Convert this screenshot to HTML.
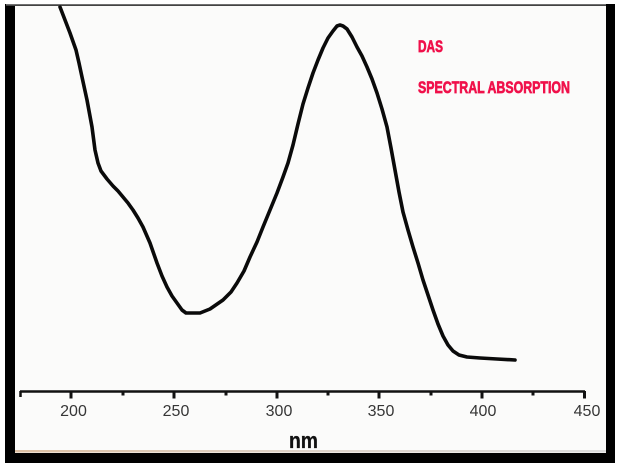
<!DOCTYPE html>
<html>
<head>
<meta charset="utf-8">
<style>
  html,body{margin:0;padding:0;background:#fff;}
  svg{display:block;}
</style>
</head>
<body>
<svg width="625" height="472" viewBox="0 0 625 472" xmlns="http://www.w3.org/2000/svg">
  <defs>
    <linearGradient id="tan" x1="0" x2="1" y1="0" y2="0">
      <stop offset="0" stop-color="#dcbfa2"/>
      <stop offset="0.5" stop-color="#ddd2c8"/>
      <stop offset="1" stop-color="#dcdcdc"/>
    </linearGradient>
  </defs>
  <rect x="0" y="0" width="625" height="472" fill="#ffffff"/>
  <!-- frame -->
  <rect x="5" y="4" width="610" height="459" fill="#000"/>
  <rect x="15" y="6" width="591" height="447" fill="#fbfbfa"/>
  <rect x="5" y="0" width="610" height="4" fill="#fff"/>
  <rect x="6" y="4" width="600" height="1.6" fill="#707070"/>
  <rect x="15" y="450" width="591" height="2.5" fill="url(#tan)"/>

  <!-- curve -->
  <polyline fill="none" stroke="#0a0a0a" stroke-width="3.6" stroke-linejoin="round" stroke-linecap="round"
    points="60,7 65,20 70,33 76,50 79,63 82,77 87,100 92,127 95,150 98,163 101,171 107,179 113,186 118,191 123,197 128,203 133,210 138,218 143,227 150,243 157,263 162,276 167,287 172,296 177,303 182,310 186,313 200,313 210,309 223,300 231,292 237,283 244,271 250,257 257,242 263,227 270,210 277,193 283,177 288,163 293,145 298,124 303,104 308,88 313,73 318,60 323,48 328,38 333,31 337,26 340,25 343,26 347,29 352,37 357,47 362,56 367,67 372,79 377,93 382,109 387,127 391,148 395,170 399,192 403,212 408,230 413,247 418,263 423,280 428,295 433,310 438,324 443,336 448,345 453,351 459,355 467,357 480,358 497,359 515,360"/>

  <!-- axis -->
  <g stroke="#111" fill="none">
    <line x1="20" y1="391.5" x2="585" y2="391.5" stroke-width="2.5"/>
    <line x1="20.5" y1="391" x2="20.5" y2="397" stroke-width="2.5"/>
    <g stroke-width="3">
      <line x1="71" y1="391" x2="71" y2="398.5"/>
      <line x1="174" y1="391" x2="174" y2="398.5"/>
      <line x1="277" y1="391" x2="277" y2="398.5"/>
      <line x1="379" y1="391" x2="379" y2="398.5"/>
      <line x1="482" y1="391" x2="482" y2="398.5"/>
      <line x1="584.5" y1="391" x2="584.5" y2="398.5"/>
      <line x1="123" y1="391" x2="123" y2="395.5"/>
      <line x1="226" y1="391" x2="226" y2="395.5"/>
      <line x1="328" y1="391" x2="328" y2="395.5"/>
      <line x1="431" y1="391" x2="431" y2="395.5"/>
      <line x1="533" y1="391" x2="533" y2="395.5"/>
    </g>
  </g>
  <g font-family="Liberation Sans, Arial, sans-serif" font-size="16" fill="#363636" text-anchor="middle">
    <text x="73.5" y="416">200</text>
    <text x="176" y="416">250</text>
    <text x="279" y="416">300</text>
    <text x="381" y="416">350</text>
    <text x="483" y="416">400</text>
    <text x="587" y="416">450</text>
  </g>
  <text x="289" y="448" font-family="Liberation Sans, Arial, sans-serif" font-weight="bold" font-size="22" fill="#111" stroke="#111" stroke-width="0.3" textLength="29" lengthAdjust="spacingAndGlyphs">nm</text>

  <!-- title text -->
  <g font-family="Liberation Sans, Arial, sans-serif" font-weight="bold" font-size="16.5" fill="#f0104a" stroke="#f0104a" stroke-width="0.7">
    <text x="418" y="52" textLength="25" lengthAdjust="spacingAndGlyphs">DAS</text>
    <text x="418" y="93" textLength="152" lengthAdjust="spacingAndGlyphs">SPECTRAL ABSORPTION</text>
  </g>
</svg>
</body>
</html>
